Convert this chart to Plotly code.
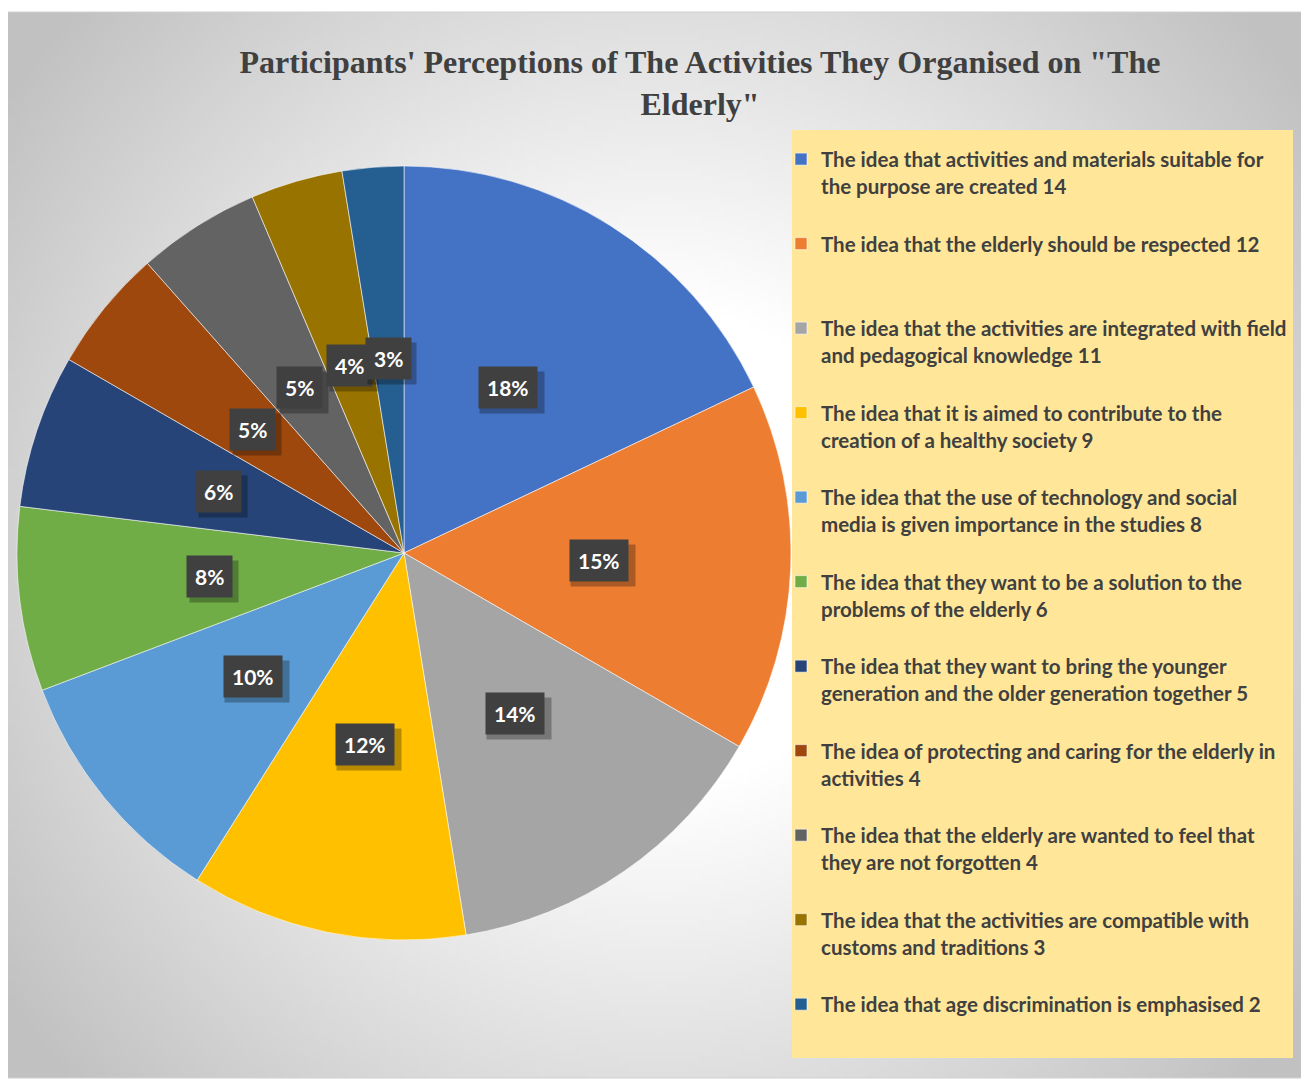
import base64, struct, zlib, math
import plotly.graph_objects as go

# ---------------- data ----------------
categories = [
    "The idea that activities and materials suitable for|the purpose are created",
    "The idea that the elderly should be respected",
    "The idea that the activities are integrated with field|and pedagogical knowledge",
    "The idea that it is aimed to contribute to the|creation of a healthy society",
    "The idea that the use of technology and social|media is given importance in the studies",
    "The idea that they want to be a solution to the|problems of the elderly",
    "The idea that they want to bring the younger|generation and the older generation together",
    "The idea of protecting and caring for the elderly in|activities",
    "The idea that the elderly are wanted to feel that|they are not forgotten",
    "The idea that the activities are compatible with|customs and traditions",
    "The idea that age discrimination is emphasised",
]
values = [14, 12, 11, 9, 8, 6, 5, 4, 4, 3, 2]
colors = ["#4472C4", "#ED7D31", "#A5A5A5", "#FFC000", "#5B9BD5", "#70AD47",
          "#264478", "#9E480E", "#636363", "#997300", "#255E91"]
title_text = "Participants' Perceptions of The Activities They Organised on \"The<br>Elderly\""

# ---------------- layout constants ----------------
W, H = 1309, 1079
OFF = 8                             # page body margin
CX, CY, R = 404, 553, 387          # pie centre / radius in page px
LABEL_R = 0.505                     # label distance as fraction of radius


def px_x(x):
    return (x - OFF) / W


def px_y(y):
    return 1 - (y - OFF) / H


# ---------------- background gradient (PNG built in pure python) ----------------
def gradient_png(w, h):
    rows = []
    cx, cy = w * 0.5, h * 0.5
    scale = W / w
    for j in range(h):
        row = bytearray([0])
        for i in range(w):
            d = math.hypot((i - cx) * scale, (j - cy) * scale)
            t = max(0.0, min(1.0, (d - 240) / 560))
            g = int(round(255 - 62 * t))
            row.append(g)
        rows.append(bytes(row))
    raw = b"".join(rows)

    def chunk(tag, data):
        c = struct.pack(">I", len(data)) + tag + data
        return c + struct.pack(">I", zlib.crc32(tag + data) & 0xffffffff)

    png = (b"\x89PNG\r\n\x1a\n"
           + chunk(b"IHDR", struct.pack(">IIBBBBB", w, h, 8, 0, 0, 0, 0))
           + chunk(b"IDAT", zlib.compress(raw, 9))
           + chunk(b"IEND", b""))
    return "data:image/png;base64," + base64.b64encode(png).decode()


bg_src = gradient_png(260, 212)


# ---------------- legend labels ----------------
def legend_label(cat, v):
    lines = (cat + f" {v}").split("|")
    while len(lines) < 3:
        lines.append(" ")
    return "<br>".join(f"<span style='font-size:20.5px'>{l}</span>" for l in lines)


labels = [legend_label(c, v) for c, v in zip(categories, values)]

fig = go.Figure()
fig.add_trace(go.Pie(
    labels=labels,
    values=values,
    sort=False,
    direction="clockwise",
    rotation=0,
    textinfo="none",
    hoverinfo="label+value+percent",
    marker=dict(colors=colors, line=dict(color="rgba(255,255,255,0.7)", width=0.8)),
    domain=dict(x=[px_x(CX - R), px_x(CX + R)], y=[px_y(CY + R), px_y(CY - R)]),
    showlegend=True,
))

# ---------------- percentage labels ----------------
total = sum(values)
annotations = []
cum = 0
for v in values:
    mid = (cum + v / 2) / total * 2 * math.pi
    cum += v
    x = CX + LABEL_R * R * math.sin(mid)
    y = CY - LABEL_R * R * math.cos(mid)
    pct = round(v / total * 100)
    txt = f"<b>{pct}%</b>"
    # soft drop shadow box (blank text of roughly the same width)
    n_sp = 9 if pct >= 10 else 6
    annotations.append(dict(
        x=px_x(x), y=px_y(y), xref="paper", yref="paper",
        text="&nbsp;" * n_sp, showarrow=False,
        xanchor="center", yanchor="middle",
        font=dict(family="Lato", size=21, color="rgba(0,0,0,0)"),
        bgcolor="rgba(0,0,0,0.28)", borderpad=8, xshift=4, yshift=-5,
    ))
    annotations.append(dict(
        x=px_x(x), y=px_y(y), xref="paper", yref="paper", text=txt, showarrow=False,
        xanchor="center", yanchor="middle",
        font=dict(family="Lato", size=21, color="#ffffff"),
        bgcolor="#404040", borderpad=8,
    ))

shapes = [
    # chart area border
    dict(type="rect", xref="paper", yref="paper", x0=px_x(7), x1=px_x(1305),
         y0=px_y(1078), y1=px_y(12), line=dict(color="#d0d0d0", width=1),
         fillcolor="rgba(0,0,0,0)", layer="below"),
    # legend background
    dict(type="rect", xref="paper", yref="paper", x0=px_x(792), x1=px_x(1293),
         y0=px_y(1058), y1=px_y(130), line=dict(width=0),
         fillcolor="#FFE699", layer="below"),
]

fig.update_layout(
    width=W, height=H,
    margin=dict(l=0, r=0, t=0, b=0, autoexpand=False),
    paper_bgcolor="#ffffff",
    plot_bgcolor="rgba(0,0,0,0)",
    title=dict(
        text=f"<b>{title_text}</b>",
        x=px_x(700), xanchor="center",
        y=1 - 65 / H, yanchor="top",
        font=dict(family="Liberation Serif", size=32, color="#404040"),
    ),
    legend=dict(
        x=px_x(781), xanchor="left",
        y=px_y(139), yanchor="top",
        bgcolor="rgba(0,0,0,0)",
        valign="top",
        font=dict(family="Lato", size=20.9, color="#404040", weight="bold"),
    ),
    images=[dict(
        source=bg_src, xref="paper", yref="paper",
        x=px_x(7), y=px_y(12), sizex=1298 / W, sizey=1066 / H,
        xanchor="left", yanchor="top", sizing="stretch", layer="below",
    )],
    shapes=shapes,
    annotations=annotations,
)

fig.write_html("out.html")
